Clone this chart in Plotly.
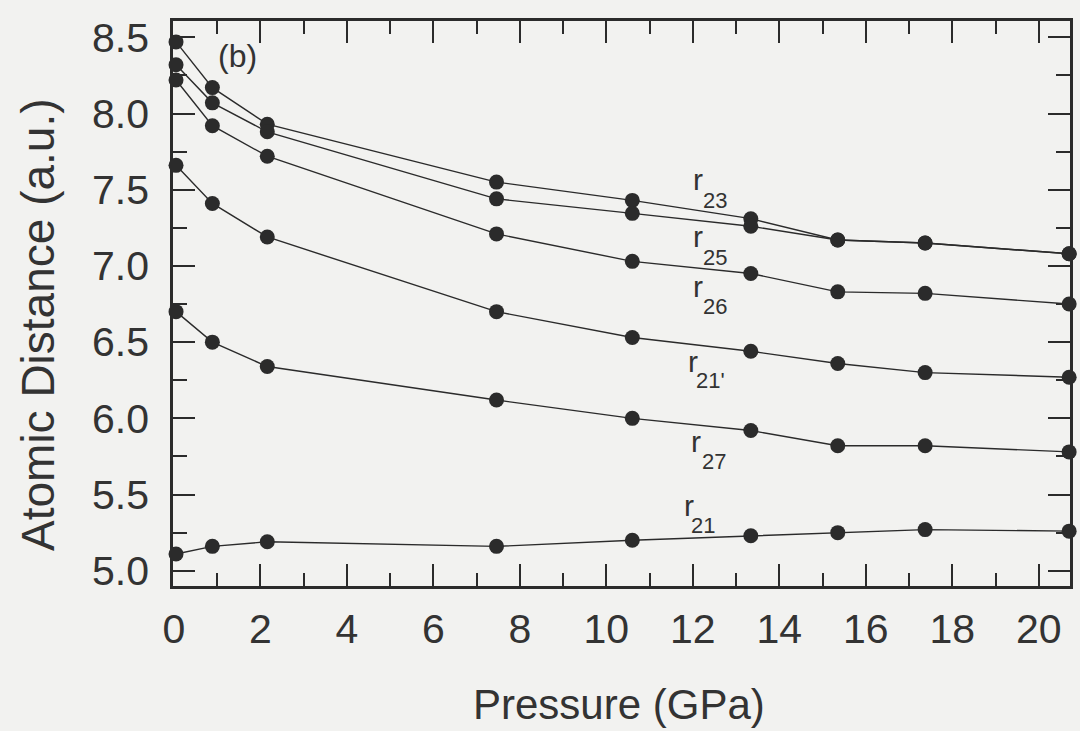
import plotly.graph_objects as go

# ---- data ----
pressure = [0.05, 0.89, 2.16, 7.46, 10.6, 13.34, 15.35, 17.37, 20.7]
r23 = [8.47, 8.17, 7.93, 7.55, 7.43, 7.31, 7.17, 7.15, 7.08]
r25 = [8.32, 8.07, 7.88, 7.44, 7.345, 7.26, 7.17, 7.15, 7.08]
r26 = [8.22, 7.92, 7.72, 7.21, 7.03, 6.95, 6.83, 6.82, 6.75]
r21p = [7.66, 7.41, 7.19, 6.70, 6.53, 6.44, 6.36, 6.30, 6.27]
r27 = [6.70, 6.50, 6.34, 6.12, 6.00, 5.92, 5.82, 5.82, 5.78]
r21 = [5.11, 5.16, 5.19, 5.16, 5.20, 5.23, 5.25, 5.27, 5.26]

series = [r23, r25, r26, r21p, r27, r21]
sub_labels = ["23", "25", "26", "21'", "27", "21"]
x_ticks = [0, 2, 4, 6, 8, 10, 12, 14, 16, 18, 20]
y_ticks = [5.0, 5.5, 6.0, 6.5, 7.0, 7.5, 8.0, 8.5]

# label anchor positions (data coordinates): "r" and its subscript
r_pos = [(12.12, 7.564), (12.12, 7.196), (12.12, 6.868), (12.00, 6.376), (12.07, 5.851), (11.91, 5.431)]
sub_pos = [(12.51, 7.432), (12.51, 7.058), (12.51, 6.737), (12.40, 6.251), (12.49, 5.720), (12.23, 5.300)]

INK = "#2b2b2b"
TXT = "#333333"
BG = "#f2f2f0"
FONT = "Liberation Sans, Arial, sans-serif"

fig = go.Figure()
for ys in series:
    fig.add_trace(go.Scatter(
        x=pressure, y=ys, mode="lines+markers",
        line=dict(color=INK, width=1.4),
        marker=dict(color=INK, size=15),
        cliponaxis=False, showlegend=False,
    ))

for (rx, ry), (sx, sy), lab in zip(r_pos, sub_pos, sub_labels):
    fig.add_annotation(x=rx, y=ry, text="r", showarrow=False,
                       font=dict(family=FONT, size=30, color=TXT),
                       xanchor="center", yanchor="middle")
    fig.add_annotation(x=sx, y=sy, text=lab, showarrow=False,
                       font=dict(family=FONT, size=22, color=TXT),
                       xanchor="center", yanchor="middle")

fig.add_annotation(x=1.47, y=8.377, text="(b)", showarrow=False,
                   font=dict(family=FONT, size=32, color=TXT),
                   xanchor="center", yanchor="middle")

# axis titles
fig.add_annotation(x=0.497, y=-0.2106, xref="paper", yref="paper",
                   text="Pressure (GPa)", showarrow=False,
                   font=dict(family=FONT, size=42, color=TXT),
                   xanchor="center", yanchor="middle")
fig.add_annotation(x=0, y=0.462, xref="paper", yref="paper", xshift=-135,
                   text="Atomic Distance (a.u.)", showarrow=False, textangle=-90,
                   font=dict(family=FONT, size=46, color=TXT),
                   xanchor="center", yanchor="middle")

axis_common = dict(
    showline=True, linecolor=INK, linewidth=2.5, mirror="ticks",
    ticks="inside", ticklen=22, tickwidth=2, tickcolor=INK,
    showgrid=False, zeroline=False,
    tickfont=dict(family=FONT, size=41, color=TXT),
)

fig.update_xaxes(
    range=[-0.02, 20.72], tickvals=x_ticks,
    minor=dict(dtick=1, tick0=0, ticks="inside", ticklen=13, tickwidth=2, tickcolor=INK, showgrid=False),
    ticklabelstandoff=5,
    **axis_common,
)
fig.update_yaxes(
    range=[4.9, 8.607], tickvals=y_ticks, ticktext=[f"{v:.1f}" for v in y_ticks],
    minor=dict(dtick=0.25, tick0=5.0, ticks="inside", ticklen=14, tickwidth=2, tickcolor=INK, showgrid=False),
    ticklabelstandoff=13,
    **axis_common,
)

fig.update_layout(
    width=1080, height=731,
    margin=dict(l=173, r=7, t=21, b=145),
    paper_bgcolor=BG, plot_bgcolor=BG,
    font=dict(family=FONT, color=TXT),
)

fig.write_html(
    "out.html",
    config={"displayModeBar": False},
    post_script="document.body.style.margin='0';document.body.style.background='#f2f2f0';",
)
